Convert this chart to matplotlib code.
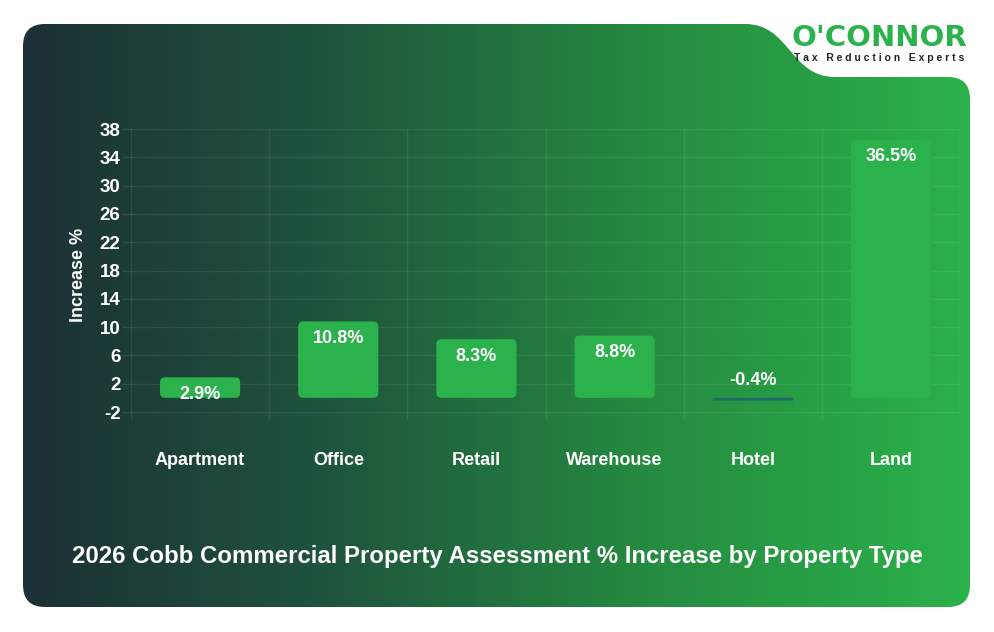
import numpy as np
import matplotlib
matplotlib.use("Agg")
import matplotlib.pyplot as plt
from matplotlib.path import Path
from matplotlib.patches import PathPatch, FancyBboxPatch
from matplotlib.colors import LinearSegmentedColormap

categories = ["Apartment", "Office", "Retail", "Warehouse", "Hotel", "Land"]
increase = [2.9, 10.8, 8.3, 8.8, -0.4, 36.5]
yticks = [-2, 2, 6, 10, 14, 18, 22, 26, 30, 34, 38]
title = "2026 Cobb Commercial Property Assessment % Increase by Property Type"

plt.rcParams['font.family'] = ['Liberation Sans', 'DejaVu Sans']
plt.rcParams['font.weight'] = 'bold'

W, H = 994, 632
fig = plt.figure(figsize=(W / 100, H / 100), dpi=100)
fig.patch.set_facecolor('white')

# background card, pixel coords (y down)
bg = fig.add_axes([0, 0, 1, 1])
bg.set_xlim(0, W)
bg.set_ylim(H, 0)
bg.axis('off')

L, T, R, B = 23, 24, 970, 607
r = 22
verts = [
    (L + r, T), (745, T),
    (790, T), (790, 77), (835, 77),
    (R - r, 77), (R, 77), (R, 77 + r),
    (R, B - r), (R, B), (R - r, B),
    (L + r, B), (L, B), (L, B - r),
    (L, T + r), (L, T), (L + r, T),
    (L + r, T),
]
codes = [Path.MOVETO, Path.LINETO,
         Path.CURVE4, Path.CURVE4, Path.CURVE4,
         Path.LINETO, Path.CURVE3, Path.CURVE3,
         Path.LINETO, Path.CURVE3, Path.CURVE3,
         Path.LINETO, Path.CURVE3, Path.CURVE3,
         Path.LINETO, Path.CURVE3, Path.CURVE3,
         Path.CLOSEPOLY]
card = PathPatch(Path(verts, codes), facecolor='none', edgecolor='none')
bg.add_patch(card)

cmap = LinearSegmentedColormap.from_list(
    'bgcard', ['#1c3035', '#1f563d', '#258c40', '#2bb24b'])
grad = np.linspace(0, 1, 512).reshape(1, -1)
im = bg.imshow(grad, cmap=cmap, extent=[L, R, B, T], aspect='auto')
im.set_clip_path(card)

# logo
bg.text(879, 38, "O'CONNOR", color='#2bb24c', fontsize=21, fontweight='bold',
        ha='center', va='center', family=['DejaVu Sans'])
bg.text(879, 58, "T a x   R e d u c t i o n   E x p e r t s", color='#222222',
        fontsize=7.5, fontweight='bold', ha='center', va='center')

# chart axes
x0, x1, y0, y1 = 131, 960, 129, 420
ax = fig.add_axes([x0 / W, 1 - y1 / H, (x1 - x0) / W, (y1 - y0) / H])
ax.patch.set_alpha(0)
ymin, ymax = -3.13, 38
ax.set_ylim(ymin, ymax)
ax.set_xlim(-0.5, len(categories) - 0.5)
xs = np.arange(len(categories))

for s in ax.spines.values():
    s.set_visible(False)
ax.set_yticks(yticks)
ax.set_yticklabels([str(v) for v in yticks])
ax.tick_params(axis='y', colors=(1, 1, 1, 0.1), length=6.5, width=1,
               labelcolor='white', labelsize=13.5, pad=1)
ax.tick_params(axis='x', length=0, labelcolor='white', labelsize=13, pad=23)
ax.set_xticks(xs)
ax.set_xticklabels(categories)
for v in yticks:
    ax.axhline(v, color='white', alpha=0.08, lw=1, zorder=0)
for b in np.arange(-0.5, len(categories), 1.0):
    ax.axvline(b, color='white', alpha=0.08, lw=1, zorder=0)
ax.set_ylabel("Increase %", color='white', fontsize=13, fontweight='bold',
              labelpad=9)

bars = ax.bar(xs, increase, width=0.58)
px_y = (ymax - ymin) / (y1 - y0)
px_x = len(categories) / (x1 - x0)
for bar, v in zip(bars, increase):
    bar.set_visible(False)
    color = '#2bb24c' if v > 0 else '#1e6b68'
    rs = 5 * px_x if v > 0 else 0
    p = FancyBboxPatch((bar.get_x(), min(0, v)), bar.get_width(), abs(v),
                       boxstyle=f"round,pad=0,rounding_size={rs}",
                       mutation_aspect=px_y / px_x,
                       facecolor=color, edgecolor='none', zorder=2)
    ax.add_patch(p)
    ly = v - 17 * px_y if v > 0 else 17 * px_y
    ax.text(bar.get_x() + bar.get_width() / 2, ly, f"{v}%", color='white',
            fontsize=13, fontweight='bold', ha='center', va='center', zorder=3)

fig.text(497 / W, 1 - 556 / H, title, color='white', fontsize=17.3,
         fontweight='bold', ha='center', va='center')

fig.savefig('out.png', dpi=100)
